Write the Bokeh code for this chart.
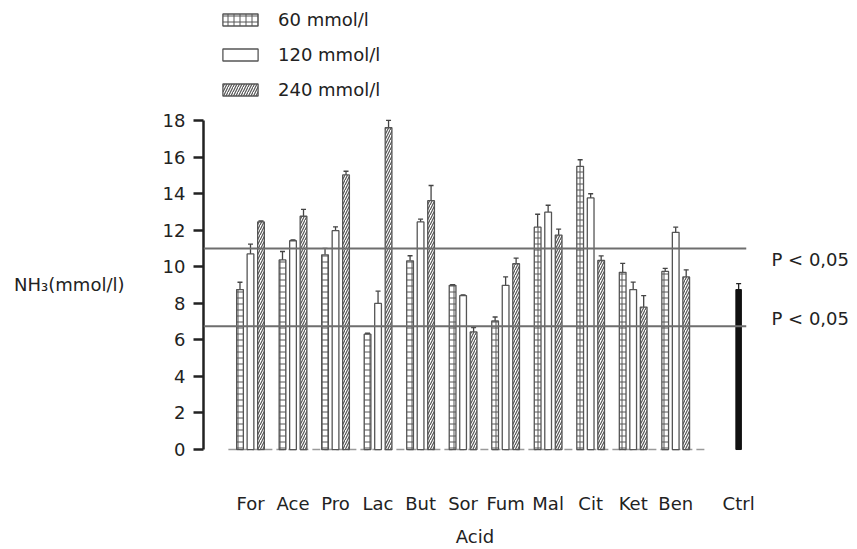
from bokeh.plotting import figure
from bokeh.models import (Range1d, FixedTicker, Span, Legend, LegendItem, LinearAxis,
                          Whisker, TeeHead, ColumnDataSource)
from bokeh.embed import file_html
from bokeh.resources import INLINE

# ---------------- data ----------------
categories = ["For", "Ace", "Pro", "Lac", "But", "Sor", "Fum", "Mal", "Cit", "Ket", "Ben"]
v60 = [8.75, 10.37, 10.65, 6.31, 10.32, 8.98, 7.03, 12.16, 15.49, 9.69, 9.74]
e60 = [9.15, 10.83, 11.00, 6.36, 10.60, 9.02, 7.25, 12.87, 15.85, 10.18, 9.91]
v120 = [10.70, 11.42, 11.97, 7.99, 12.45, 8.42, 8.98, 12.98, 13.76, 8.75, 11.88]
e120 = [11.24, 11.47, 12.18, 8.66, 12.60, 8.46, 9.44, 13.36, 13.99, 9.16, 12.16]
v240 = [12.45, 12.76, 15.02, 17.60, 13.61, 6.43, 10.16, 11.73, 10.34, 7.79, 9.44]
e240 = [12.50, 13.14, 15.22, 18.00, 14.44, 6.67, 10.47, 12.06, 10.59, 8.42, 9.83]
ctrl_label = "Ctrl"
ctrl_value = [8.75]
ctrl_err = [9.07]
p_lines = [11.0, 6.74]
p_text = "P < 0,05"
y_ticks = [0, 2, 4, 6, 8, 10, 12, 14, 16, 18]
series_labels = ["60 mmol/l", "120 mmol/l", "240 mmol/l"]
y_title = "NH\u2083(mmol/l)"
x_title = "Acid"

# ---------------- layout constants ----------------
FONT = "DejaVu Sans"
TXT = "#222222"
OFF = 0.247
BW = 0.158
CTRL_POS = 11.48
EDGE = "#555555"
P_LABEL_POS = [10.41, 7.16]   # vertical placement of the two "P < 0,05" notes
Y_TITLE_POS = 9.0             # vertical placement of the y title

p = figure(width=857, height=549, output_backend="svg", toolbar_location=None,
           x_range=Range1d(-1.105, 11.665), y_range=Range1d(-0.108, 24.56),
           min_border_left=203, min_border_right=111, min_border_top=0,
           min_border_bottom=94)
p.outline_line_color = None
p.grid.visible = False
p.background_fill_color = "white"

# baseline (dashed)
p.line(x=[-0.52, 10.72], y=[0, 0], line_color="#9a9a9a", line_width=1.5, line_dash="8 4")

xs = list(range(len(categories)))

def src(vals, errs, off):
    return ColumnDataSource(dict(x=[i + off for i in xs], top=vals, err=errs))

s60 = src(v60, e60, -OFF)
s120 = src(v120, e120, 0.0)
s240 = src(v240, e240, OFF)

r60 = p.vbar(x="x", top="top", bottom=0, width=BW, source=s60, fill_color="white",
             line_color=EDGE, line_width=1.3, hatch_pattern="+", hatch_scale=6,
             hatch_color=EDGE, hatch_weight=1)
r120 = p.vbar(x="x", top="top", bottom=0, width=BW, source=s120, fill_color="white",
              line_color=EDGE, line_width=1.3)
r240 = p.vbar(x="x", top="top", bottom=0, width=BW, source=s240, fill_color="white",
              line_color=EDGE, line_width=1.3, hatch_pattern="/", hatch_scale=5,
              hatch_color=EDGE, hatch_weight=1.2)

sctrl = ColumnDataSource(dict(x=[CTRL_POS], top=ctrl_value, err=ctrl_err))
p.vbar(x="x", top="top", bottom=0, width=0.13, source=sctrl, fill_color="#111111",
       line_color="#111111")

for s, col in ((s60, "#444444"), (s120, "#444444"), (s240, "#444444"), (sctrl, "#222222")):
    w = Whisker(source=s, base="x", upper="err", lower="top", dimension="height",
                line_color=col, line_width=1.3, lower_head=None,
                upper_head=TeeHead(size=5, line_color=col, line_width=1.3))
    p.add_layout(w)

# significance lines
for v in p_lines:
    p.add_layout(Span(location=v, dimension="width", line_color="#6e6e6e", line_width=2))

# right-hand notes as a bare axis
rax = LinearAxis(ticker=FixedTicker(ticks=P_LABEL_POS),
                 major_label_overrides={t: p_text for t in P_LABEL_POS},
                 axis_line_color=None, major_tick_line_color=None,
                 minor_tick_line_color=None, major_tick_out=0, major_tick_in=0,
                 major_label_standoff=25, major_label_text_font=FONT,
                 major_label_text_font_size="18px", major_label_text_color=TXT)
p.add_layout(rax, "right")

# axes
yax = p.yaxis[0]
yax.ticker = FixedTicker(ticks=y_ticks)
yax.bounds = (0, 18)
yax.axis_line_width = 2.5
yax.axis_line_color = TXT
yax.major_tick_line_width = 2.5
yax.major_tick_line_color = TXT
yax.major_tick_out = 10
yax.major_tick_in = 0
yax.minor_tick_line_color = None
yax.major_label_standoff = 8
yax.major_label_text_font = FONT
yax.major_label_text_font_size = "18px"
yax.major_label_text_color = TXT

# y title as the single label of a bare outer axis
tax = LinearAxis(ticker=FixedTicker(ticks=[Y_TITLE_POS]),
                 major_label_overrides={Y_TITLE_POS: y_title},
                 axis_line_color=None, major_tick_line_color=None,
                 minor_tick_line_color=None, major_tick_out=0, major_tick_in=0,
                 major_label_standoff=35, major_label_text_font=FONT,
                 major_label_text_font_size="18px", major_label_text_color=TXT)
p.add_layout(tax, "left")

xax = p.xaxis[0]
tick_pos = xs + [CTRL_POS]
xax.ticker = FixedTicker(ticks=tick_pos)
xax.major_label_overrides = {t: lab for t, lab in zip(tick_pos, categories + [ctrl_label])}
xax.axis_line_color = None
xax.major_tick_line_color = None
xax.minor_tick_line_color = None
xax.major_tick_out = 0
xax.major_tick_in = 0
xax.major_label_standoff = 41
xax.major_label_text_font = FONT
xax.major_label_text_font_size = "18px"
xax.major_label_text_color = TXT
xax.axis_label = x_title
xax.axis_label_standoff = 9
xax.axis_label_text_font = FONT
xax.axis_label_text_font_size = "18px"
xax.axis_label_text_font_style = "normal"
xax.axis_label_text_color = TXT

legend = Legend(items=[LegendItem(label=series_labels[0], renderers=[r60]),
                       LegendItem(label=series_labels[1], renderers=[r120]),
                       LegendItem(label=series_labels[2], renderers=[r240])],
                location=(15, 351), padding=0, margin=0, spacing=14,
                glyph_width=44, glyph_height=15, label_standoff=16,
                label_text_font=FONT, label_text_font_size="18px",
                label_text_color=TXT, border_line_color=None,
                background_fill_alpha=0)
p.add_layout(legend)

open("out.html", "w").write(file_html(p, INLINE))
